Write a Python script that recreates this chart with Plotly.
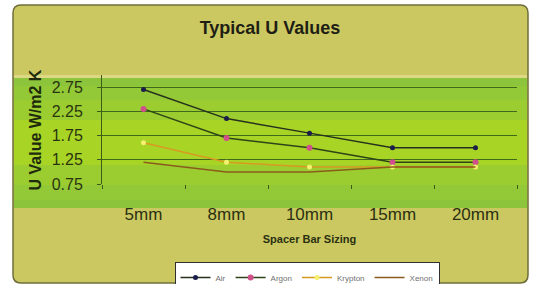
import plotly.graph_objects as go

categories = ["5mm", "8mm", "10mm", "15mm", "20mm"]
air = [2.7, 2.1, 1.8, 1.5, 1.5]
argon = [2.3, 1.7, 1.5, 1.2, 1.2]
krypton = [1.6, 1.2, 1.1, 1.1, 1.1]
xenon = [1.2, 1.0, 1.0, 1.1, 1.1]
y_ticks = [0.75, 1.25, 1.75, 2.25, 2.75]

W, H = 533, 284
L, R, T, B = 102, 16, 75, 100
pw, ph = W - L - R, H - T - B

def px(x):
    return (x - L) / pw

def py(y):
    return (H - B - y) / ph

xs = list(range(len(categories)))
fig = go.Figure()
fig.add_trace(go.Scatter(x=xs, y=air, name="Air", mode="lines+markers",
                         line=dict(color="#26301e", width=1.5),
                         marker=dict(color="#1b1d4a", size=5)))
fig.add_trace(go.Scatter(x=xs, y=argon, name="Argon", mode="lines+markers",
                         line=dict(color="#2d4418", width=1.5),
                         marker=dict(color="#d0508a", size=6)))
fig.add_trace(go.Scatter(x=xs, y=krypton, name="Krypton", mode="lines+markers",
                         line=dict(color="#d89a22", width=1.5),
                         marker=dict(color="#f4f070", size=5)))
fig.add_trace(go.Scatter(x=xs, y=xenon, name="Xenon", mode="lines",
                         line=dict(color="#8a5c1c", width=1.5)))

shapes = []
# chart frame (rounded)
x0, x1, y0, y1 = px(13), px(528), py(283), py(5)
rx, ry = 8 / pw, 8 / ph
path = (f"M {x0+rx},{y1} L {x1-rx},{y1} Q {x1},{y1} {x1},{y1-ry} "
        f"L {x1},{y0+ry} Q {x1},{y0} {x1-rx},{y0} L {x0+rx},{y0} "
        f"Q {x0},{y0} {x0},{y0+ry} L {x0},{y1-ry} Q {x0},{y1} {x0+rx},{y1} Z")
shapes.append(dict(type="path", xref="paper", yref="paper", path=path,
                   fillcolor="#cbc862", line=dict(color="#6f6e3a", width=1.5), layer="below"))
# green band with stepped gradient
bands = [(78, 86, "#8cc43c"), (86, 100, "#93c937"), (100, 120, "#9bcd30"),
         (120, 165, "#a8d426"), (165, 185, "#9bcd30"), (185, 200, "#93c937"), (200, 208, "#8cc43c")]
for a, b, c in bands:
    shapes.append(dict(type="rect", xref="paper", yref="paper",
                       x0=px(14), x1=px(527), y0=py(b), y1=py(a),
                       fillcolor=c, line=dict(width=0), layer="below"))
# pale strip above band
shapes.append(dict(type="rect", xref="paper", yref="paper",
                   x0=px(14), x1=px(527), y0=py(78), y1=py(75),
                   fillcolor="#dcd884", line=dict(width=0), layer="below"))

fig.update_layout(
    width=W, height=H,
    margin=dict(l=L, r=R, t=T, b=B, autoexpand=False),
    paper_bgcolor="white",
    plot_bgcolor="rgba(0,0,0,0)",
    shapes=shapes,
    font=dict(family="Liberation Sans, Arial, sans-serif", color="#2a3510"),
    title=dict(text="<b>Typical U Values</b>", xref="paper", x=px(270), xanchor="center",
               yref="container", y=1 - 28 / H, yanchor="middle",
               font=dict(size=18, color="#1e1e14")),
    xaxis=dict(range=[-0.5, 4.5], tickmode="array", tickvals=xs, ticktext=categories,
               showgrid=False, zeroline=False, showline=False, ticks="",
               tickfont=dict(size=17, color="#2a3010"), ticklabelstandoff=18,
               minor=dict(tick0=-0.5, dtick=1, ticks="outside", ticklen=4,
                          tickcolor="#3c5a18", showgrid=False),
               title=dict(text="<b>Spacer Bar Sizing</b>", font=dict(size=11, color="#2a3010"),
                          standoff=12)),
    yaxis=dict(range=[0.75, 3.0], tickmode="array", tickvals=y_ticks,
               ticktext=[f"{v:.2f}" for v in y_ticks],
               showgrid=True, gridcolor="#3f6a1c", gridwidth=1,
               zeroline=False, showline=True, linecolor="#3c5a18", linewidth=1,
               ticks="outside", ticklen=4, tickcolor="#3c5a18",
               tickfont=dict(size=16, color="#2a3510"), ticklabelstandoff=11),
    showlegend=True,
    legend=dict(orientation="h", x=px(307), xanchor="center", y=py(262), yanchor="top",
                bgcolor="white", bordercolor="#303030", borderwidth=1,
                font=dict(size=8, color="#707070"), itemwidth=30,
                tracegroupgap=0),
    annotations=[dict(text="<b>U Value W/m2 K</b>", xref="paper", yref="paper",
                      x=px(24), y=py(130), textangle=-90, showarrow=False,
                      font=dict(size=16, color="#1e2a0c"))],
)

fig.write_html("out.html", config={"displayModeBar": False},
               post_script="document.body.style.margin='0px';")
